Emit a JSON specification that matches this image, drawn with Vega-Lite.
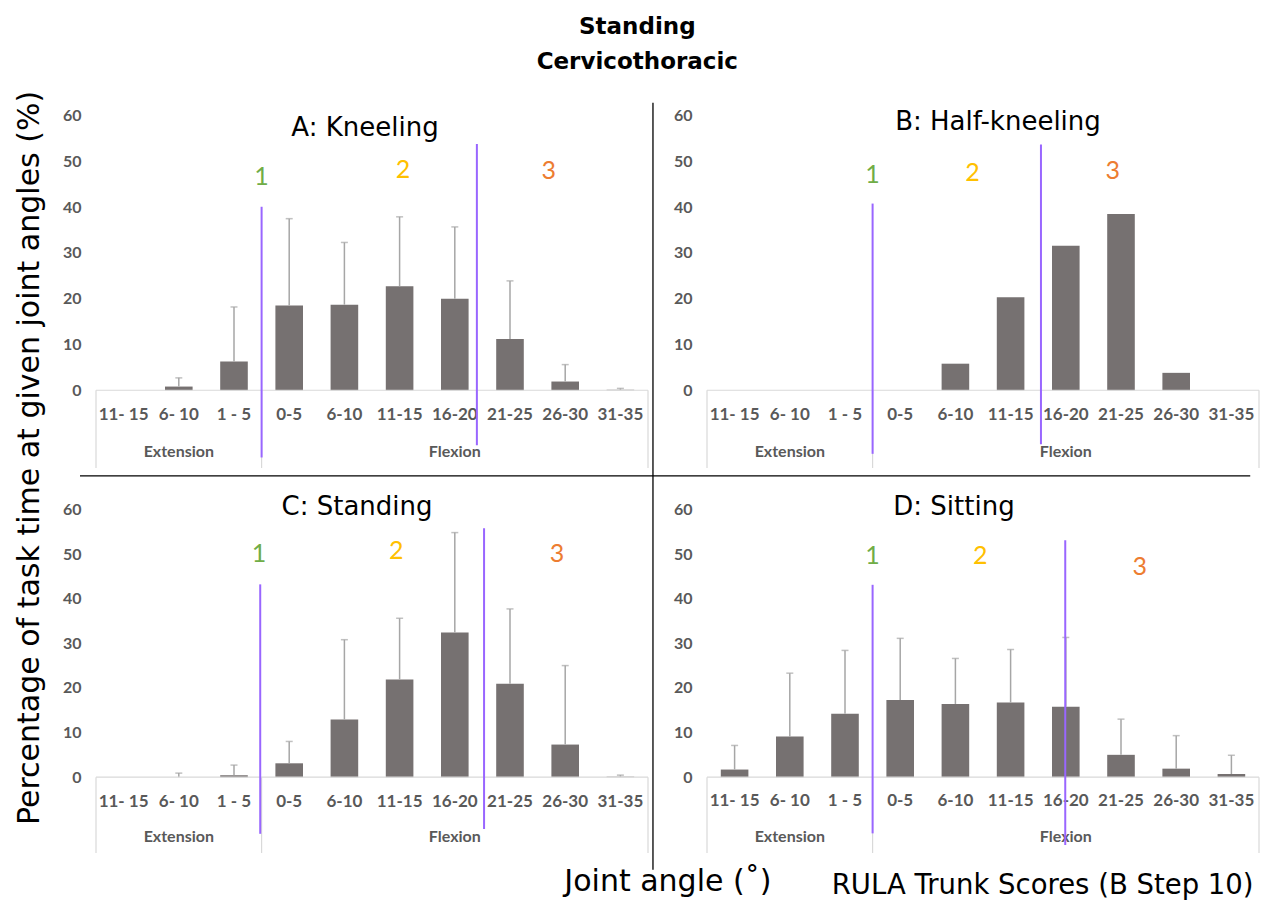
{
  "$schema": "https://vega.github.io/schema/vega-lite/v6.json",
  "padding": {"left": 14, "top": 15, "right": 0, "bottom": 0},
  "background": "white",
  "title": {"text": ["Standing", "Cervicothoracic"], "fontSize": 23, "font": "DejaVu Sans", "fontWeight": "bold", "lineHeight": 35, "anchor": "middle", "color": "#000000", "offset": 17},
  "datasets": {
    "kneeling": [
      {"cat": "11- 15", "value": 0, "err": null},
      {"cat": "6- 10", "value": 0.8, "err": 2.7},
      {"cat": "1 - 5", "value": 6.3, "err": 18.2},
      {"cat": "0-5", "value": 18.5, "err": 37.5},
      {"cat": "6-10", "value": 18.7, "err": 32.3},
      {"cat": "11-15", "value": 22.7, "err": 37.9},
      {"cat": "16-20", "value": 20.0, "err": 35.7},
      {"cat": "21-25", "value": 11.2, "err": 23.9},
      {"cat": "26-30", "value": 1.9, "err": 5.6},
      {"cat": "31-35", "value": 0.1, "err": 0.4}
    ],
    "halfkneeling": [
      {"cat": "11- 15", "value": 0, "err": null},
      {"cat": "6- 10", "value": 0, "err": null},
      {"cat": "1 - 5", "value": 0, "err": null},
      {"cat": "0-5", "value": 0, "err": null},
      {"cat": "6-10", "value": 5.8, "err": null},
      {"cat": "11-15", "value": 20.3, "err": null},
      {"cat": "16-20", "value": 31.6, "err": null},
      {"cat": "21-25", "value": 38.5, "err": null},
      {"cat": "26-30", "value": 3.8, "err": null},
      {"cat": "31-35", "value": 0, "err": null}
    ],
    "standing": [
      {"cat": "11- 15", "value": 0, "err": null},
      {"cat": "6- 10", "value": 0, "err": 0.9},
      {"cat": "1 - 5", "value": 0.4, "err": 2.7},
      {"cat": "0-5", "value": 3.1, "err": 8.0},
      {"cat": "6-10", "value": 12.9, "err": 30.8},
      {"cat": "11-15", "value": 21.9, "err": 35.6},
      {"cat": "16-20", "value": 32.4, "err": 54.8},
      {"cat": "21-25", "value": 20.9, "err": 37.7},
      {"cat": "26-30", "value": 7.3, "err": 25.0},
      {"cat": "31-35", "value": 0.1, "err": 0.45}
    ],
    "sitting": [
      {"cat": "11- 15", "value": 1.7, "err": 7.1},
      {"cat": "6- 10", "value": 9.1, "err": 23.3},
      {"cat": "1 - 5", "value": 14.2, "err": 28.4},
      {"cat": "0-5", "value": 17.3, "err": 31.1},
      {"cat": "6-10", "value": 16.4, "err": 26.6},
      {"cat": "11-15", "value": 16.7, "err": 28.6},
      {"cat": "16-20", "value": 15.8, "err": 31.3},
      {"cat": "21-25", "value": 5.0, "err": 13.0},
      {"cat": "26-30", "value": 1.9, "err": 9.3},
      {"cat": "31-35", "value": 0.7, "err": 4.9}
    ],
    "groups": [
      {"group": "Extension", "cat": "6- 10"},
      {"group": "Flexion", "cat": "16-20"}
    ]
  },
  "columns": 2,
  "bounds": "flush",
  "spacing": {"row": 28, "column": 59},
  "concat": [
    {
      "width": 552, "height": 366,
      "title": {"text": "A: Kneeling", "fontSize": 26, "font": "DejaVu Sans", "fontWeight": "normal", "color": "#000000", "baseline": "middle", "offset": -63, "dx": -7},
      "resolve": {"scale": {"x": "independent"}},
      "layer": [
        {
          "layer": [
            {"data": {"name": "kneeling"}, "mark": {"type": "bar", "color": "#767171"},
             "encoding": {
               "x": {"field": "cat", "type": "nominal", "sort": null, "scale": {"domain": ["11- 15","6- 10","1 - 5","0-5","6-10","11-15","16-20","21-25","26-30","31-35"], "paddingInner": 0.5, "paddingOuter": 0.25}, "axis": null},
               "y": {"field": "value", "type": "quantitative", "scale": {"domain": [-17, 63], "nice": false, "zero": false},
                     "axis": {"values": [0,10,20,30,40,50,60], "domain": false, "ticks": false, "tickSize": 0, "grid": false, "title": null, "labelFont": "Lato", "labelFontWeight": "bold", "labelFontSize": 16, "labelColor": "#595959", "labelPadding": 15}}
             }},
            {"data": {"name": "kneeling"}, "transform": [{"filter": "datum.err != null"}], "mark": {"type": "rule", "color": "#a6a6a6", "strokeWidth": 1.5},
             "encoding": {"x": {"field": "cat", "type": "nominal"}, "y": {"field": "value", "type": "quantitative"}, "y2": {"field": "err"}}},
            {"data": {"name": "kneeling"}, "transform": [{"filter": "datum.err != null"}], "mark": {"type": "tick", "color": "#a6a6a6", "size": 7, "thickness": 1.5},
             "encoding": {"x": {"field": "cat", "type": "nominal"}, "y": {"field": "err", "type": "quantitative"}}},
            {"data": {"name": "kneeling"}, "mark": {"type": "text", "font": "Lato", "fontWeight": "bold", "fontSize": 17, "color": "#595959", "baseline": "middle"},
             "encoding": {"x": {"field": "cat", "type": "nominal"}, "y": {"datum": -5.4}, "text": {"field": "cat"}}},
            {"data": {"name": "groups"}, "mark": {"type": "text", "font": "Lato", "fontWeight": "bold", "fontSize": 16, "color": "#595959", "baseline": "middle"},
             "encoding": {"x": {"field": "cat", "type": "nominal"}, "y": {"datum": -13.5}, "text": {"field": "group"}}},
            {"data": {"values": [{}]}, "mark": {"type": "rule", "color": "#d9d9d9", "strokeWidth": 1.2}, "encoding": {"y": {"datum": 0}}},
            {"data": {"values": [{}]}, "mark": {"type": "rule", "color": "#d9d9d9", "strokeWidth": 1.2}, "encoding": {"x": {"datum": "11- 15", "bandPosition": -0.5}, "y": {"datum": 0}, "y2": {"datum": -17}}},
            {"data": {"values": [{}]}, "mark": {"type": "rule", "color": "#d9d9d9", "strokeWidth": 1.2}, "encoding": {"x": {"datum": "0-5", "bandPosition": -0.5}, "y": {"datum": 0}, "y2": {"datum": -17}}},
            {"data": {"values": [{}]}, "mark": {"type": "rule", "color": "#d9d9d9", "strokeWidth": 1.2}, "encoding": {"x": {"datum": "31-35", "bandPosition": 1.5}, "y": {"datum": 0}, "y2": {"datum": -17}}},
            {"data": {"values": [{}]}, "mark": {"type": "rule", "color": "#9966ff", "strokeWidth": 2}, "encoding": {"x": {"datum": "0-5", "bandPosition": -0.5}, "y": {"datum": 40.1}, "y2": {"datum": -14.7}}},
            {"data": {"values": [{}]}, "mark": {"type": "rule", "color": "#9966ff", "strokeWidth": 2}, "encoding": {"x": {"datum": "16-20", "bandPosition": 1.3}, "y": {"datum": 53.8}, "y2": {"datum": -12.0}}},
            {"data": {"values": [{}]}, "mark": {"type": "text", "text": "1", "color": "#70ad47", "font": "Lato", "fontSize": 25, "baseline": "middle"}, "encoding": {"x": {"datum": "0-5", "bandPosition": -0.5}, "y": {"datum": 46.7}}},
            {"data": {"values": [{}]}, "mark": {"type": "text", "text": "2", "color": "#ffc000", "font": "Lato", "fontSize": 25, "baseline": "middle"}, "encoding": {"x": {"datum": "11-15", "bandPosition": 0.62}, "y": {"datum": 48.2}}},
            {"data": {"values": [{}]}, "mark": {"type": "text", "text": "3", "color": "#ed7d31", "font": "Lato", "fontSize": 25, "baseline": "middle"}, "encoding": {"x": {"datum": "26-30", "bandPosition": -0.1}, "y": {"datum": 48.0}}}
          ]
        },
        {
          "data": {"values": [{}]},
          "layer": [
            {"mark": {"type": "rule", "color": "#000000", "strokeWidth": 1.3},
             "encoding": {"x": {"datum": 1.009, "type": "quantitative", "scale": {"domain": [0, 1], "nice": false, "zero": false}, "axis": null}, "y": {"datum": 62.85}, "y2": {"datum": -104.8}}},
            {"mark": {"type": "rule", "color": "#000000", "strokeWidth": 1.3},
             "encoding": {"x": {"datum": -0.029, "type": "quantitative"}, "x2": {"datum": 2.091}, "y": {"datum": -18.7}}},
            {"mark": {"type": "text", "text": "Percentage of task time at given joint angles (%)", "angle": 270, "font": "DejaVu Sans", "fontSize": 30, "baseline": "middle", "align": "center", "color": "#000000"},
             "encoding": {"x": {"datum": -0.1196, "type": "quantitative"}, "y": {"datum": -14.8}}},
            {"mark": {"type": "text", "text": "Joint angle (˚)", "font": "DejaVu Sans", "fontSize": 30, "baseline": "middle", "align": "center", "color": "#000000"},
             "encoding": {"x": {"datum": 1.036, "type": "quantitative"}, "y": {"datum": -107.6}}},
            {"mark": {"type": "text", "text": "RULA Trunk Scores (B Step 10)", "font": "DejaVu Sans", "fontSize": 27.5, "baseline": "middle", "align": "center", "color": "#000000"},
             "encoding": {"x": {"datum": 1.715, "type": "quantitative"}, "y": {"datum": -108.3}}}
          ]
        }
      ]
    },
    {
      "width": 552, "height": 366,
      "title": {"text": "B: Half-kneeling", "fontSize": 26, "font": "DejaVu Sans", "fontWeight": "normal", "color": "#000000", "baseline": "middle", "offset": -46, "dx": 15},
      "layer": [
        {"data": {"name": "halfkneeling"}, "mark": {"type": "bar", "color": "#767171"},
         "encoding": {
           "x": {"field": "cat", "type": "nominal", "sort": null, "scale": {"domain": ["11- 15","6- 10","1 - 5","0-5","6-10","11-15","16-20","21-25","26-30","31-35"], "paddingInner": 0.5, "paddingOuter": 0.25}, "axis": null},
           "y": {"field": "value", "type": "quantitative", "scale": {"domain": [-17, 63], "nice": false, "zero": false},
                 "axis": {"values": [0,10,20,30,40,50,60], "domain": false, "ticks": false, "tickSize": 0, "grid": false, "title": null, "labelFont": "Lato", "labelFontWeight": "bold", "labelFontSize": 16, "labelColor": "#595959", "labelPadding": 15}}
         }},
        {"data": {"name": "halfkneeling"}, "mark": {"type": "text", "font": "Lato", "fontWeight": "bold", "fontSize": 17, "color": "#595959", "baseline": "middle"},
         "encoding": {"x": {"field": "cat", "type": "nominal"}, "y": {"datum": -5.4}, "text": {"field": "cat"}}},
        {"data": {"name": "groups"}, "mark": {"type": "text", "font": "Lato", "fontWeight": "bold", "fontSize": 16, "color": "#595959", "baseline": "middle"},
         "encoding": {"x": {"field": "cat", "type": "nominal"}, "y": {"datum": -13.5}, "text": {"field": "group"}}},
        {"data": {"values": [{}]}, "mark": {"type": "rule", "color": "#d9d9d9", "strokeWidth": 1.2}, "encoding": {"y": {"datum": 0}}},
        {"data": {"values": [{}]}, "mark": {"type": "rule", "color": "#d9d9d9", "strokeWidth": 1.2}, "encoding": {"x": {"datum": "11- 15", "bandPosition": -0.5}, "y": {"datum": 0}, "y2": {"datum": -17}}},
        {"data": {"values": [{}]}, "mark": {"type": "rule", "color": "#d9d9d9", "strokeWidth": 1.2}, "encoding": {"x": {"datum": "0-5", "bandPosition": -0.5}, "y": {"datum": 0}, "y2": {"datum": -17}}},
        {"data": {"values": [{}]}, "mark": {"type": "rule", "color": "#d9d9d9", "strokeWidth": 1.2}, "encoding": {"x": {"datum": "31-35", "bandPosition": 1.5}, "y": {"datum": 0}, "y2": {"datum": -17}}},
        {"data": {"values": [{}]}, "mark": {"type": "rule", "color": "#9966ff", "strokeWidth": 2}, "encoding": {"x": {"datum": "0-5", "bandPosition": -0.5}, "y": {"datum": 40.8}, "y2": {"datum": -13.9}}},
        {"data": {"values": [{}]}, "mark": {"type": "rule", "color": "#9966ff", "strokeWidth": 2}, "encoding": {"x": {"datum": "11-15", "bandPosition": 1.6}, "y": {"datum": 53.7}, "y2": {"datum": -11.8}}},
        {"data": {"values": [{}]}, "mark": {"type": "text", "text": "1", "color": "#70ad47", "font": "Lato", "fontSize": 25, "baseline": "middle"}, "encoding": {"x": {"datum": "0-5", "bandPosition": -0.5}, "y": {"datum": 47.1}}},
        {"data": {"values": [{}]}, "mark": {"type": "text", "text": "2", "color": "#ffc000", "font": "Lato", "fontSize": 25, "baseline": "middle"}, "encoding": {"x": {"datum": "6-10", "bandPosition": 1.12}, "y": {"datum": 47.5}}},
        {"data": {"values": [{}]}, "mark": {"type": "text", "text": "3", "color": "#ed7d31", "font": "Lato", "fontSize": 25, "baseline": "middle"}, "encoding": {"x": {"datum": "21-25", "bandPosition": 0.2}, "y": {"datum": 48.0}}}
      ]
    },
    {
      "width": 552, "height": 357,
      "title": {"text": "C: Standing", "fontSize": 26, "font": "DejaVu Sans", "fontWeight": "normal", "color": "#000000", "baseline": "middle", "offset": -37, "dx": -15},
      "layer": [
        {"data": {"name": "standing"}, "mark": {"type": "bar", "color": "#767171"},
         "encoding": {
           "x": {"field": "cat", "type": "nominal", "sort": null, "scale": {"domain": ["11- 15","6- 10","1 - 5","0-5","6-10","11-15","16-20","21-25","26-30","31-35"], "paddingInner": 0.5, "paddingOuter": 0.25}, "axis": null},
           "y": {"field": "value", "type": "quantitative", "scale": {"domain": [-17, 63], "nice": false, "zero": false},
                 "axis": {"values": [0,10,20,30,40,50,60], "domain": false, "ticks": false, "tickSize": 0, "grid": false, "title": null, "labelFont": "Lato", "labelFontWeight": "bold", "labelFontSize": 16, "labelColor": "#595959", "labelPadding": 15}}
         }},
        {"data": {"name": "standing"}, "transform": [{"filter": "datum.err != null"}], "mark": {"type": "rule", "color": "#a6a6a6", "strokeWidth": 1.5},
         "encoding": {"x": {"field": "cat", "type": "nominal"}, "y": {"field": "value", "type": "quantitative"}, "y2": {"field": "err"}}},
        {"data": {"name": "standing"}, "transform": [{"filter": "datum.err != null"}], "mark": {"type": "tick", "color": "#a6a6a6", "size": 7, "thickness": 1.5},
         "encoding": {"x": {"field": "cat", "type": "nominal"}, "y": {"field": "err", "type": "quantitative"}}},
        {"data": {"name": "standing"}, "mark": {"type": "text", "font": "Lato", "fontWeight": "bold", "fontSize": 17, "color": "#595959", "baseline": "middle"},
         "encoding": {"x": {"field": "cat", "type": "nominal"}, "y": {"datum": -5.6}, "text": {"field": "cat"}}},
        {"data": {"name": "groups"}, "mark": {"type": "text", "font": "Lato", "fontWeight": "bold", "fontSize": 16, "color": "#595959", "baseline": "middle"},
         "encoding": {"x": {"field": "cat", "type": "nominal"}, "y": {"datum": -13.5}, "text": {"field": "group"}}},
        {"data": {"values": [{}]}, "mark": {"type": "rule", "color": "#d9d9d9", "strokeWidth": 1.2}, "encoding": {"y": {"datum": 0}}},
        {"data": {"values": [{}]}, "mark": {"type": "rule", "color": "#d9d9d9", "strokeWidth": 1.2}, "encoding": {"x": {"datum": "11- 15", "bandPosition": -0.5}, "y": {"datum": 0}, "y2": {"datum": -17}}},
        {"data": {"values": [{}]}, "mark": {"type": "rule", "color": "#d9d9d9", "strokeWidth": 1.2}, "encoding": {"x": {"datum": "0-5", "bandPosition": -0.5}, "y": {"datum": 0}, "y2": {"datum": -17}}},
        {"data": {"values": [{}]}, "mark": {"type": "rule", "color": "#d9d9d9", "strokeWidth": 1.2}, "encoding": {"x": {"datum": "31-35", "bandPosition": 1.5}, "y": {"datum": 0}, "y2": {"datum": -17}}},
        {"data": {"values": [{}]}, "mark": {"type": "rule", "color": "#9966ff", "strokeWidth": 2}, "encoding": {"x": {"datum": "0-5", "bandPosition": -0.55}, "y": {"datum": 43.2}, "y2": {"datum": -12.7}}},
        {"data": {"values": [{}]}, "mark": {"type": "rule", "color": "#9966ff", "strokeWidth": 2}, "encoding": {"x": {"datum": "21-25", "bandPosition": -0.44}, "y": {"datum": 55.8}, "y2": {"datum": -11.6}}},
        {"data": {"values": [{}]}, "mark": {"type": "text", "text": "1", "color": "#70ad47", "font": "Lato", "fontSize": 25, "baseline": "middle"}, "encoding": {"x": {"datum": "0-5", "bandPosition": -0.59}, "y": {"datum": 50.1}}},
        {"data": {"values": [{}]}, "mark": {"type": "text", "text": "2", "color": "#ffc000", "font": "Lato", "fontSize": 25, "baseline": "middle"}, "encoding": {"x": {"datum": "11-15", "bandPosition": 0.38}, "y": {"datum": 50.7}}},
        {"data": {"values": [{}]}, "mark": {"type": "text", "text": "3", "color": "#ed7d31", "font": "Lato", "fontSize": 25, "baseline": "middle"}, "encoding": {"x": {"datum": "26-30", "bandPosition": 0.2}, "y": {"datum": 49.9}}}
      ]
    },
    {
      "width": 552, "height": 357,
      "title": {"text": "D: Sitting", "fontSize": 26, "font": "DejaVu Sans", "fontWeight": "normal", "color": "#000000", "baseline": "middle", "offset": -37, "dx": -29},
      "layer": [
        {"data": {"name": "sitting"}, "mark": {"type": "bar", "color": "#767171"},
         "encoding": {
           "x": {"field": "cat", "type": "nominal", "sort": null, "scale": {"domain": ["11- 15","6- 10","1 - 5","0-5","6-10","11-15","16-20","21-25","26-30","31-35"], "paddingInner": 0.5, "paddingOuter": 0.25}, "axis": null},
           "y": {"field": "value", "type": "quantitative", "scale": {"domain": [-17, 63], "nice": false, "zero": false},
                 "axis": {"values": [0,10,20,30,40,50,60], "domain": false, "ticks": false, "tickSize": 0, "grid": false, "title": null, "labelFont": "Lato", "labelFontWeight": "bold", "labelFontSize": 16, "labelColor": "#595959", "labelPadding": 15}}
         }},
        {"data": {"name": "sitting"}, "transform": [{"filter": "datum.err != null"}], "mark": {"type": "rule", "color": "#a6a6a6", "strokeWidth": 1.5},
         "encoding": {"x": {"field": "cat", "type": "nominal"}, "y": {"field": "value", "type": "quantitative"}, "y2": {"field": "err"}}},
        {"data": {"name": "sitting"}, "transform": [{"filter": "datum.err != null"}], "mark": {"type": "tick", "color": "#a6a6a6", "size": 7, "thickness": 1.5},
         "encoding": {"x": {"field": "cat", "type": "nominal"}, "y": {"field": "err", "type": "quantitative"}}},
        {"data": {"name": "sitting"}, "mark": {"type": "text", "font": "Lato", "fontWeight": "bold", "fontSize": 17, "color": "#595959", "baseline": "middle"},
         "encoding": {"x": {"field": "cat", "type": "nominal"}, "y": {"datum": -5.4}, "text": {"field": "cat"}}},
        {"data": {"name": "groups"}, "mark": {"type": "text", "font": "Lato", "fontWeight": "bold", "fontSize": 16, "color": "#595959", "baseline": "middle"},
         "encoding": {"x": {"field": "cat", "type": "nominal"}, "y": {"datum": -13.5}, "text": {"field": "group"}}},
        {"data": {"values": [{}]}, "mark": {"type": "rule", "color": "#d9d9d9", "strokeWidth": 1.2}, "encoding": {"y": {"datum": 0}}},
        {"data": {"values": [{}]}, "mark": {"type": "rule", "color": "#d9d9d9", "strokeWidth": 1.2}, "encoding": {"x": {"datum": "11- 15", "bandPosition": -0.5}, "y": {"datum": 0}, "y2": {"datum": -17}}},
        {"data": {"values": [{}]}, "mark": {"type": "rule", "color": "#d9d9d9", "strokeWidth": 1.2}, "encoding": {"x": {"datum": "0-5", "bandPosition": -0.5}, "y": {"datum": 0}, "y2": {"datum": -17}}},
        {"data": {"values": [{}]}, "mark": {"type": "rule", "color": "#d9d9d9", "strokeWidth": 1.2}, "encoding": {"x": {"datum": "31-35", "bandPosition": 1.5}, "y": {"datum": 0}, "y2": {"datum": -17}}},
        {"data": {"values": [{}]}, "mark": {"type": "rule", "color": "#9966ff", "strokeWidth": 2}, "encoding": {"x": {"datum": "0-5", "bandPosition": -0.5}, "y": {"datum": 43.1}, "y2": {"datum": -12.6}}},
        {"data": {"values": [{}]}, "mark": {"type": "rule", "color": "#9966ff", "strokeWidth": 2}, "encoding": {"x": {"datum": "16-20", "bandPosition": 0.48}, "y": {"datum": 53.1}, "y2": {"datum": -15.2}}},
        {"data": {"values": [{}]}, "mark": {"type": "text", "text": "1", "color": "#70ad47", "font": "Lato", "fontSize": 25, "baseline": "middle"}, "encoding": {"x": {"datum": "0-5", "bandPosition": -0.5}, "y": {"datum": 49.6}}},
        {"data": {"values": [{}]}, "mark": {"type": "text", "text": "2", "color": "#ffc000", "font": "Lato", "fontSize": 25, "baseline": "middle"}, "encoding": {"x": {"datum": "6-10", "bandPosition": 1.4}, "y": {"datum": 49.6}}},
        {"data": {"values": [{}]}, "mark": {"type": "text", "text": "3", "color": "#ed7d31", "font": "Lato", "fontSize": 25, "baseline": "middle"}, "encoding": {"x": {"datum": "21-25", "bandPosition": 1.18}, "y": {"datum": 47.0}}}
      ]
    }
  ],
  "config": {"view": {"stroke": null}}
}
